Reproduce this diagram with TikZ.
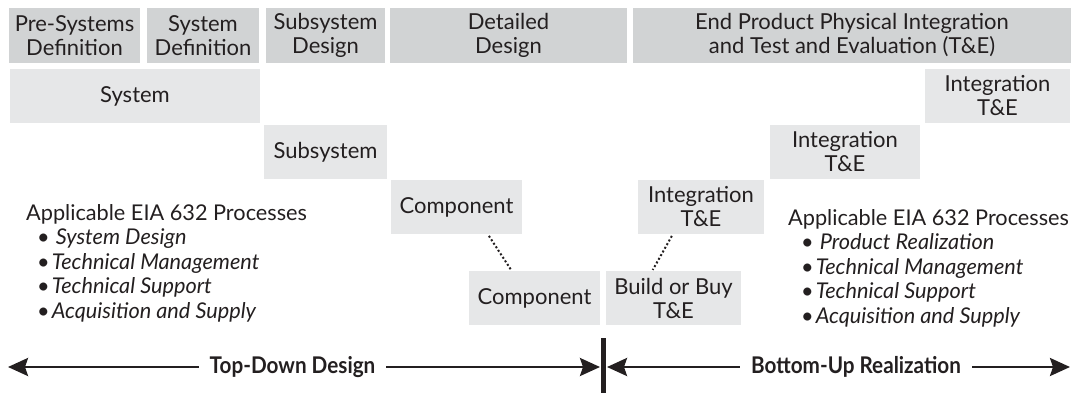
\documentclass[tikz,border=0pt]{standalone}
\usepackage{fontspec}
\setmainfont{Lato}
\newfontfamily\condfont{Lato}[FakeStretch=0.9]
\usetikzlibrary{arrows.meta}
\definecolor{hdrgray}{RGB}{209,211,212}
\definecolor{boxgray}{RGB}{230,231,232}
\definecolor{inkgray}{RGB}{35,31,32}

\begin{document}
\begin{tikzpicture}[x=1pt, y=-1pt,
  every node/.style={text=inkgray, font=\fontsize{22}{24}\selectfont},
  phase/.style={fill=hdrgray, minimum height=55pt, inner sep=0pt, align=center},
  level/.style={fill=boxgray, minimum height=54pt, inner sep=0pt, align=center},
  link/.style={draw=inkgray, line width=2pt, dash pattern=on 2pt off 2.2pt, shorten <=2pt, shorten >=1pt},
  flow/.style={draw=inkgray, line width=2.7pt, -{Stealth[length=20pt, width=18pt, inset=3pt]}},
  procs/.style={align=left, inner sep=0pt, anchor=west, font=\fontsize{21.7}{24.5}\selectfont},
  direction/.style={font=\fontsize{23}{24}\condfont\bfseries, inner sep=11pt}
]
\useasboundingbox (0,0) rectangle (1071,394);

% Phase headers
\foreach \name/\x/\w/\txt in {presys/74.5/131/{Pre-Systems\\Definition},
    sysdef/203/112/{System\\Definition},
    subdes/325.5/119/{Subsystem\\Design},
    detdes/508.5/237/{Detailed\\Design},
    endprod/852/438/{End Product Physical Integration\\and Test and Evaluation (T\&E)}} {
  \node[phase, minimum width=\w pt] (\name) at (\x, 35.5) {\txt};
}

% Levels down the left side and up the right side
\foreach \name/\x/\y/\w/\txt in {system/135/96/250/System,
    subsys/325.5/152/123/Subsystem,
    comp1/456.5/207/131/Component,
    comp2/534.5/298/131/Component,
    buy/673.5/298/135/{Build or Buy\\T\&E},
    intlow/701/207/126/{Integration\\T\&E},
    intmid/845/152/150/{Integration\\T\&E},
    inttop/997.5/96/145/{Integration\\T\&E}} {
  \node[level, minimum width=\w pt] (\name) at (\x, \y) {\txt};
}

% Dotted links at the bottom of the V
\draw[link] (comp1.-41) -- (comp2.130);
\draw[link] (intlow.-136) -- (buy.128);

% Process lists
\node[procs] (leftproc) at (26,263) {Applicable EIA 632 Processes\\
  \hspace*{11pt}\textbullet\hspace{6pt}\textit{System Design}\\
  \hspace*{11pt}\textbullet\hspace{2pt}\textit{Technical Management}\\
  \hspace*{11pt}\textbullet\hspace{2pt}\textit{Technical Support}\\
  \hspace*{11pt}\textbullet\hspace{2pt}\textit{Acquisition and Supply}};
\node[procs] (rightproc) at (788,268) {Applicable EIA 632 Processes\\
  \hspace*{13pt}\textbullet\hspace{6pt}\textit{Product Realization}\\
  \hspace*{13pt}\textbullet\hspace{2pt}\textit{Technical Management}\\
  \hspace*{13pt}\textbullet\hspace{2pt}\textit{Technical Support}\\
  \hspace*{13pt}\textbullet\hspace{2pt}\textit{Acquisition and Supply}};

% Direction arrows
\coordinate (leftend) at (8,367);
\coordinate (rightend) at (1070,367);
\coordinate (barleft) at (600,367);
\coordinate (barright) at (607,367);
\coordinate (bartop) at (603,338);
\coordinate (barbot) at (603,393);
\node[direction] (topdown) at (292.5,367) {Top-Down Design};
\node[direction] (bottomup) at (856,367) {Bottom-Up Realization};
\draw[flow] (topdown) -- (leftend);
\draw[flow] (topdown) -- (barleft);
\draw[flow] (bottomup) -- (barright);
\draw[flow] (bottomup) -- (rightend);
\draw[draw=inkgray, line width=5pt] (bartop) -- (barbot);
\end{tikzpicture}
\end{document}
